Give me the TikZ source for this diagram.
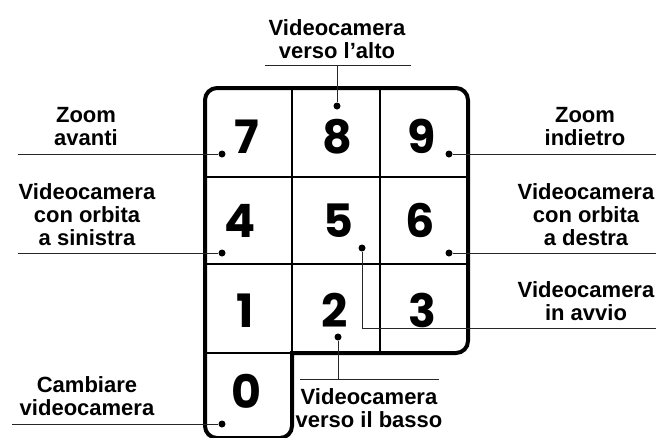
\documentclass[tikz,border=0pt]{standalone}
\usepackage{fontspec}
\setmainfont{Liberation Sans}
\newfontfamily\digitfont{Poppins}
\begin{document}
\begin{tikzpicture}[x=1pt,y=-1pt,
  lbl/.style={font=\bfseries\fontsize{22}{23}\selectfont, align=center, inner sep=0pt, anchor=base},
  digit/.style={font=\digitfont\bfseries\fontsize{46}{46}\selectfont, inner sep=0pt, anchor=base},
  dot/.style={circle, fill=black, inner sep=0pt, minimum size=7pt},
  lead/.style={line width=1pt, black!85},
  frame/.style={line width=4pt, rounded corners=12pt, line cap=rect},
  gridline/.style={line width=2pt}]
\useasboundingbox (0,0) rectangle (656,437);
\clip (0,0) rectangle (656,437);
% keypad
\draw[gridline] (292,88) -- (292,353) (380,88) -- (380,353)
  (205,177) -- (468,177) (205,264) -- (468,264) (205,353) -- (292,353);
\draw[frame] (292,353) -- (468,353) -- (468,88) -- (205,88) -- (205,438) -- (292,438) -- (292,353);
% digits
\node[digit] (k7) at (247,153) {7};
\node[digit] (k8) at (337,153) {8};
\node[digit] (k9) at (422,153) {9};
\node[digit] (k4) at (240,237) {4};
\node[digit] (k5) at (338,237) {5};
\node[digit] (k6) at (420,237) {6};
\node[digit] (k1) at (245,327) {1};
\node[digit] (k2) at (335,327) {2};
\node[digit] (k3) at (422,327) {3};
\node[digit] (k0) at (246,408) {0};
% dots
\node[dot] (d7) at (222,154) {};
\node[dot] (d8) at (337,106) {};
\node[dot] (d9) at (449,154) {};
\node[dot] (d4) at (222,253) {};
\node[dot] (d5) at (362,248) {};
\node[dot] (d6) at (449,253) {};
\node[dot] (d2) at (338,337) {};
\node[dot] (d0) at (222,424) {};
% leader end points
\coordinate (c7) at (18,154);
\coordinate (c4) at (18,253);
\coordinate (c0) at (12,424);
\coordinate (c9) at (656,154);
\coordinate (c6) at (656,253);
\coordinate (c5) at (656,328);
\coordinate (c8) at (337,65);
\coordinate (c8a) at (265,65);
\coordinate (c8b) at (411,65);
\coordinate (c2) at (338,379);
\coordinate (c2a) at (300,379);
\coordinate (c2b) at (439,379);
% leaders
\draw[lead] (c7) -- (d7);
\draw[lead] (c4) -- (d4);
\draw[lead] (c0) -- (d0);
\draw[lead] (c9) -- (d9);
\draw[lead] (c6) -- (d6);
\draw[lead] (d5) |- (c5);
\draw[lead] (c8a) -- (c8b);
\draw[lead] (c8) -- (d8);
\draw[lead] (c2a) -- (c2b);
\draw[lead] (c2) -- (d2);
% labels (anchor base = last line)
\node[lbl] (l8) at (337,58) {Videocamera\\verso l'alto};
\node[lbl] (l7) at (86,145) {Zoom\\avanti};
\node[lbl] (l4) at (87,245) {Videocamera\\con orbita\\a sinistra};
\node[lbl] (l9) at (585,145) {Zoom\\indietro};
\node[lbl] (l6) at (586,245) {Videocamera\\con orbita\\a destra};
\node[lbl] (l5) at (586,320) {Videocamera\\in avvio};
\node[lbl] (l0) at (87,415) {Cambiare\\videocamera};
\node[lbl] (l2) at (369,427) {Videocamera\\verso il basso};
\end{tikzpicture}
\end{document}
